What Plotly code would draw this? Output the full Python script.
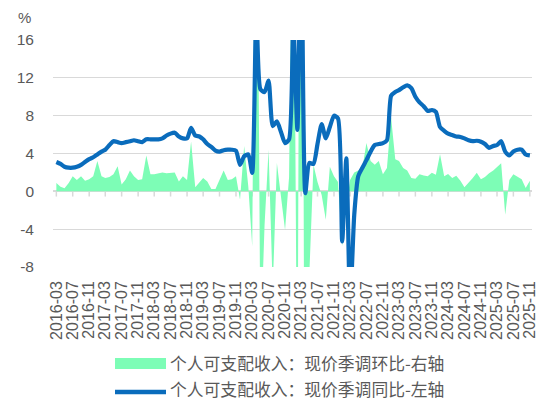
import plotly.graph_objects as go

# Monthly categories 2016-03 .. 2025-11
months = [f"{2016 + (i + 2) // 12}-{(i + 2) % 12 + 1:02d}" for i in range(117)]
tick_labels = months[::4]

# 个人可支配收入：现价季调环比 (%, right axis)
mom = [0.22, 0.12, 0.08, 0.22, 0.40, 0.30, 0.40, 0.28, 0.32, 0.40,
       0.80, 0.40, 0.35, 0.38, 0.45, 0.66, 0.18, 0.32, 0.55, 0.40,
       0.30, 0.32, 0.95, 0.45, 0.45, 0.48, 0.50, 0.48, 0.48, 0.50,
       0.26, 0.40, 0.30, 1.32, 0.11, 0.25, 0.35, 0.26, 0.06, 0.06,
       0.30, 0.55, 0.30, 0.32, 0.40, -0.22, 1.20, 0.12, -1.45, 12.5,
       -4.2, -0.9, 1.10, -2.6, 0.75, -0.15, -1.02, 0.38, 10.0, -7.0,
       21.0, -14.0, -2.2, 0.70, 0.25, -0.10, -0.75, 0.65, 0.40, 0.25,
       -1.45, -0.40, 0.30, 0.50, 0.55, 0.62, 1.28, 0.80, 0.70, 0.80,
       0.45, 0.62, 1.95, 0.85, 0.80, 0.62, 0.55, 0.35, 0.33, 0.45,
       0.42, 0.40, 0.49, 0.44, 0.98, 0.40, 0.46, 0.35, 0.41, 0.28,
       0.11, 0.22, 0.35, 0.49, 0.32, 0.38, 0.48, 0.55, 0.65, 0.74,
       -0.62, 0.30, 0.45, 0.38, 0.32, 0.09, 0.28]

# 个人可支配收入：现价季调同比 (%, left axis)
yoy = [3.1, 2.9, 2.6, 2.5, 2.5, 2.6, 2.8, 3.1, 3.4, 3.6,
       3.9, 4.2, 4.4, 4.9, 5.3, 5.2, 5.1, 5.2, 5.3, 5.4,
       5.3, 5.2, 5.5, 5.5, 5.5, 5.5, 5.6, 5.9, 6.1, 6.2,
       5.8, 5.6, 5.6, 6.7, 5.9, 5.8, 5.5, 5.0, 4.7, 4.3,
       4.2, 4.35, 4.4, 4.4, 4.3, 2.8, 3.7, 3.9, 1.95, 19.5,
       10.8, 10.5, 11.7, 6.9, 7.4, 6.3, 5.1, 5.5, 18.0, 6.5,
       29.0, -0.2, 3.0, 2.9, 5.0, 7.1, 5.6, 6.8, 8.0, 7.7,
       -5.3, 3.5, -12.0, -2.5, 1.6, 2.5, 3.3, 4.2, 4.9, 5.0,
       5.1, 5.4, 10.1, 10.5, 10.7, 11.0, 11.2, 10.9, 10.0, 9.4,
       9.0, 8.5, 8.6, 8.4, 6.8, 6.4, 6.1, 5.95, 5.8, 5.75,
       5.6, 5.4, 5.3, 5.35, 5.25, 5.0, 4.6, 4.8, 4.9, 5.3,
       4.2, 3.8, 4.2, 4.4, 4.4, 3.9, 3.8]

left_ticks = [16, 12, 8, 4, 0, -4, -8]
name_mom = "个人可支配收入：现价季调环比-右轴"
name_yoy = "个人可支配收入：现价季调同比-左轴"

GREEN = "#7DFDB6"
BLUE = "#0A6CBC"
GRAY = "#595959"
GRID = "#D9D9D9"

W, H = 540, 400
ML, MR, MT, MB = 53, 8, 40, 133
PW, PH = W - ML - MR, H - MT - MB

def px(xp):
    return (xp - ML) / PW

def py(yp):
    return (H - MB - yp) / PH

fig = go.Figure()
fig.add_trace(go.Scatter(
    x=months, y=mom, name=name_mom, mode="lines",
    line=dict(width=0, color=GREEN), fill="tozeroy", fillcolor=GREEN,
    xaxis="x", yaxis="y", showlegend=False, hoverinfo="skip"))
fig.add_trace(go.Scatter(
    x=months, y=yoy, name=name_yoy, mode="lines",
    line=dict(width=4.2, color=BLUE, shape="spline", smoothing=0.6),
    xaxis="x", yaxis="y2", showlegend=False, hoverinfo="skip"))

font_family = "Liberation Sans, Arial, sans-serif"

fig.update_layout(
    template="none",
    width=W, height=H,
    margin=dict(l=ML, r=MR, t=MT, b=MB, autoexpand=False),
    paper_bgcolor="white", plot_bgcolor="white",
    showlegend=False,
    xaxis=dict(
        type="date", range=["2016-02-05", "2025-11-17"], automargin=False,
        tickmode="array", tickvals=tick_labels, ticktext=tick_labels,
        tickangle=-90, tickfont=dict(family=font_family, size=16, color=GRAY),
        showgrid=False, zeroline=False, showline=False, ticks="",
        ticklabelstandoff=10),
    yaxis=dict(
        range=[-2, 4], side="right", showgrid=False, zeroline=False,
        showticklabels=False, showline=False, ticks="", automargin=False),
    yaxis2=dict(
        range=[-8, 16], overlaying="y", side="left", automargin=False,
        tickmode="array", tickvals=left_ticks, ticktext=[str(v) for v in left_ticks],
        tickfont=dict(family=font_family, size=15.5, color=GRAY),
        showgrid=True, gridcolor=GRID, gridwidth=1.2,
        zeroline=True, zerolinecolor=GRID, zerolinewidth=2,
        showline=False, ticks="", ticklabelstandoff=18),
)

# tick marks hanging below the zero line
shapes = []
for t in tick_labels:
    shapes.append(dict(type="line", xref="x", yref="y2", x0=t, x1=t,
                       y0=0, y1=-0.55, line=dict(color=GRID, width=1.5),
                       layer="below"))

# custom legend
shapes.append(dict(type="rect", xref="paper", yref="paper",
                   x0=px(115), x1=px(166), y0=py(358), y1=py(369),
                   fillcolor=GREEN, line=dict(width=0)))
shapes.append(dict(type="line", xref="paper", yref="paper",
                   x0=px(115), x1=px(166), y0=py(392), y1=py(392),
                   line=dict(color=BLUE, width=4.5)))
fig.update_layout(shapes=shapes)

cjk = "Noto Sans CJK SC, sans-serif"
fig.add_annotation(xref="paper", yref="paper", x=px(168), y=py(363),
                   xanchor="left", yanchor="middle", showarrow=False,
                   text=name_mom, font=dict(family=cjk, size=16.8, color=GRAY))
fig.add_annotation(xref="paper", yref="paper", x=px(168), y=py(388.5),
                   xanchor="left", yanchor="middle", showarrow=False,
                   text=name_yoy, font=dict(family=cjk, size=16.8, color=GRAY))
fig.add_annotation(xref="paper", yref="paper", x=px(24), y=py(18),
                   xanchor="center", yanchor="middle", showarrow=False,
                   text="%", font=dict(family=font_family, size=15, color=GRAY))

fig.write_html("out.html",
               config={"displayModeBar": False},
               post_script="document.body.style.margin='0';document.body.style.overflow='hidden';")
